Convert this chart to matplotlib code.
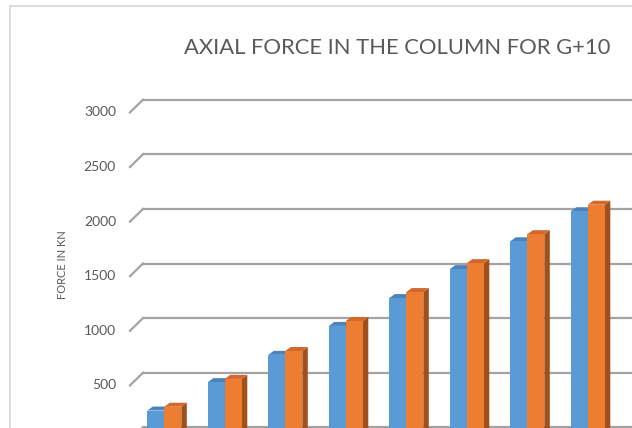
import matplotlib
matplotlib.use("Agg")
import matplotlib.pyplot as plt
from matplotlib.patches import Polygon
from matplotlib.lines import Line2D

# ---- data -------------------------------------------------------------
floors = ["1", "2", "3", "4", "5", "6", "7", "8"]
series_a = [245, 505, 755, 1020, 1275, 1540, 1795, 2070]
series_b = [280, 535, 790, 1065, 1330, 1595, 1860, 2130]
y_ticks = [500, 1000, 1500, 2000, 2500, 3000]
title = "AXIAL FORCE IN THE COLUMN FOR G+10"
y_label = "FORCE IN KN"

# ---- styling ----------------------------------------------------------
W, H = 632, 428
FONT = "Lato"
TXT = "#595959"
GRID = "#a3a3a3"
BLUE, BLUE_TOP = "#5b9bd5", "#4a84be"
ORANGE, ORANGE_TOP, ORANGE_SIDE = "#ed7d31", "#d2682a", "#a0501c"

PX_PER_UNIT = 0.1092        # vertical pixels per kN on the value scale
GROUP_PX = 60.5             # distance between category groups
BAR_PX = 17.0               # front face width of one column
DEPTH_X, DEPTH_Y = 5.5, 4.0  # 3D extrusion of the columns
FLOOR_Y = 0.7               # baseline of the back wall (px from bottom)
FRONT_DROP = 10.0           # columns sit in front of the back wall
SIDE_DX, SIDE_DY = 13.0, 12.7  # side wall depth

ymax = 3000
plot_h = ymax * PX_PER_UNIT

fig = plt.figure(figsize=(W / 100, H / 100), dpi=100)
fig.patch.set_facecolor("white")


def fx(px):
    return px / W


def fy(px):
    return px / H


# ---- back wall with gridlines ----------------------------------------
wall_left = 143.0
wall = fig.add_axes([fx(wall_left), fy(FLOOR_Y), fx(700 - wall_left), fy(plot_h)])
wall.set_ylim(0, ymax)
wall.set_xlim(0, 1)
wall.axis("off")
wall_w_px = 700 - wall_left
side_dx_frac = SIDE_DX / wall_w_px
side_dy_units = SIDE_DY / PX_PER_UNIT
ytrans = wall.get_yaxis_transform()
for t in [0] + y_ticks:
    wall.add_line(Line2D([0, 1], [t, t], color=GRID, lw=1.6,
                         transform=ytrans, clip_on=False))
    wall.add_line(Line2D([-side_dx_frac, 0], [t - side_dy_units, t],
                         color=GRID, lw=1.6, transform=ytrans, clip_on=False))
    if t > 0:
        wall.text(-side_dx_frac - 14.0 / wall_w_px, t - side_dy_units, f"{t}",
                  transform=ytrans, ha="right", va="center",
                  fontsize=10, color=TXT, family=FONT)

# ---- columns ----------------------------------------------------------
center0 = 164.3
front = fig.add_axes([0, fy(FLOOR_Y - FRONT_DROP), 1, fy(plot_h)])
front.set_xlim(-center0 / GROUP_PX, (W - center0) / GROUP_PX)
front.set_ylim(0, ymax)
front.axis("off")
front.patch.set_alpha(0)

bw = BAR_PX / GROUP_PX
ddx = DEPTH_X / GROUP_PX
ddy = DEPTH_Y / PX_PER_UNIT
base = -400  # extend columns below the visible floor
for i, (a, b) in enumerate(zip(series_a, series_b)):
    for x0, v, face, top, side in ((i - bw, a, BLUE, BLUE_TOP, BLUE_TOP),
                                   (i, b, ORANGE, ORANGE_TOP, ORANGE_SIDE)):
        front.add_patch(Polygon([(x0 + bw, base), (x0 + bw + ddx, base + ddy),
                                 (x0 + bw + ddx, v + ddy), (x0 + bw, v)],
                                closed=True, facecolor=side, edgecolor="none"))
        front.add_patch(Polygon([(x0, v), (x0 + bw, v), (x0 + bw + ddx, v + ddy),
                                 (x0 + ddx, v + ddy)],
                                closed=True, facecolor=top, edgecolor="none"))
        front.bar(x0, v - base, bottom=base, width=bw, align="edge",
                  color=face, edgecolor="none")

# ---- texts ------------------------------------------------------------
fig.text(fx(397), fy(H - 48), title, ha="center", va="center",
         fontsize=15.8, color=TXT, family=FONT)
fig.text(fx(63), fy(H - 265), y_label, ha="center", va="center",
         rotation=90, fontsize=8, color=TXT, family=FONT)

# ---- chart area border ------------------------------------------------
fig.add_artist(Line2D([fx(9.5), fx(9.5)], [fy(-5), fy(H - 6)],
                      color="#d9d9d9", lw=1.3, transform=fig.transFigure))
fig.add_artist(Line2D([fx(9.5), fx(W + 5)], [fy(H - 6), fy(H - 6)],
                      color="#d9d9d9", lw=1.3, transform=fig.transFigure))

fig.savefig("out.png", dpi=100, facecolor="white")
